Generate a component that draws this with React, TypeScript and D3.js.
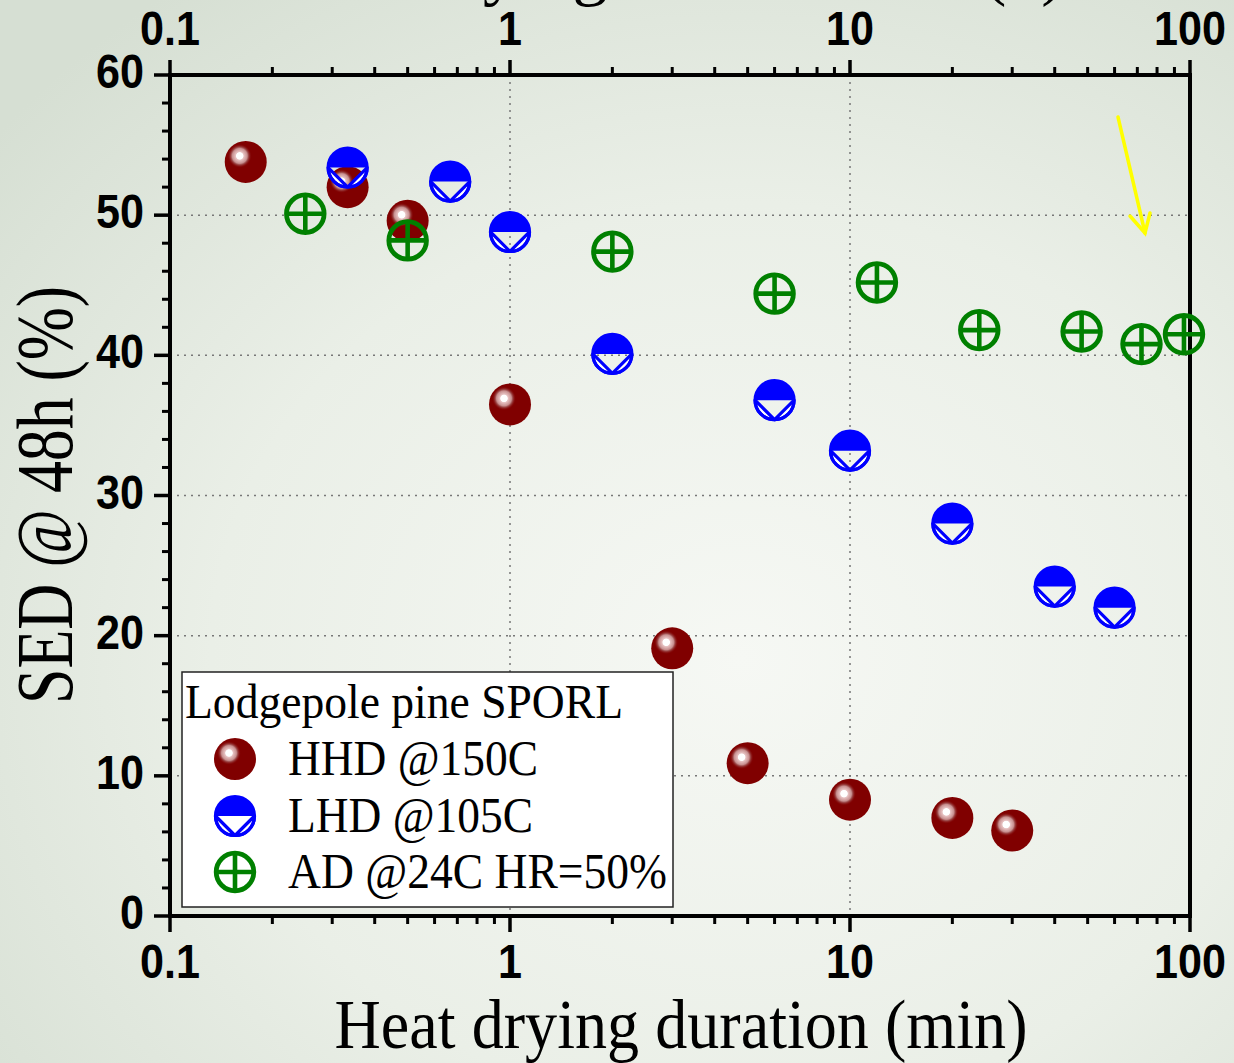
import React from "react";
import * as d3 from "d3";

// ---- data ----
const hhdX = [0.167, 0.333, 0.5, 1, 3, 5, 10, 20, 30];
const hhdY = [53.8, 52.0, 49.6, 36.5, 19.1, 10.9, 8.3, 7.0, 6.1];

const lhdX = [0.333, 0.667, 1, 2, 6, 10, 20, 40, 60];
const lhdY = [53.4, 52.4, 48.8, 40.1, 36.8, 33.2, 28.0, 23.5, 22.0];

const adX = [0.25, 0.5, 2, 6, 12, 24, 48, 72, 96];
const adY = [50.1, 48.2, 47.4, 44.4, 45.2, 41.8, 41.7, 40.8, 41.5];

const xMajorTicks = [0.1, 1, 10, 100];
const xTickLabels = ["0.1", "1", "10", "100"];
const yMajorTicks = [0, 10, 20, 30, 40, 50, 60];
const yTickLabels = ["0", "10", "20", "30", "40", "50", "60"];
const xGrid = [1, 10];
const yGrid = [10, 20, 30, 40, 50];

const legendTitle = "Lodgepole pine SPORL";
const legendLabels = ["HHD @150C", "LHD @105C", "AD @24C HR=50%"];
const xTitle = "Heat drying duration (min)";
const yTitle = "SED @ 48h (%)";

const W = 1234;
const H = 1063;
const L = 170, R = 1190, T = 75, B = 916;

const x = d3.scaleLog().domain([0.1, 100]).range([L, R]);
const y = d3.scaleLinear().domain([0, 60]).range([B, T]);

const RED = "#800000";
const BLUE = "#0000ff";
const GREEN = "#008000";

function RedMarker({ cx, cy }: { cx: number; cy: number }) {
  return (
    <g transform={`translate(${cx},${cy})`}>
      <circle r={21} fill={RED} />
      <circle cx={-6} cy={-6} r={12} fill="url(#hl)" />
    </g>
  );
}

function BlueMarker({ cx, cy }: { cx: number; cy: number }) {
  const r = 19.5;
  return (
    <g transform={`translate(${cx},${cy})`}>
      <path d={`M${-r},0 A${r},${r} 0 0 1 ${r},0 Z`} fill={BLUE} />
      <path
        d={`M${-r},0 A${r},${r} 0 0 0 0,${r} Z`}
        fill="#ffffff"
        stroke={BLUE}
        strokeWidth={3.2}
        strokeLinejoin="round"
      />
      <path
        d={`M0,${r} A${r},${r} 0 0 0 ${r},0 Z`}
        fill="#ffffff"
        stroke={BLUE}
        strokeWidth={3.2}
        strokeLinejoin="round"
      />
      <circle r={r} fill="none" stroke={BLUE} strokeWidth={3.2} />
    </g>
  );
}

function GreenMarker({ cx, cy }: { cx: number; cy: number }) {
  const r = 18.8;
  return (
    <g transform={`translate(${cx},${cy})`}>
      <circle r={r} fill="none" stroke={GREEN} strokeWidth={4.8} />
      <line x1={-r} x2={r} y1={0} y2={0} stroke={GREEN} strokeWidth={4.6} />
      <line x1={0} x2={0} y1={-r} y2={r} stroke={GREEN} strokeWidth={4.6} />
    </g>
  );
}

function TickLabel({ px, py, anchor, text }: { px: number; py: number; anchor: string; text: string }) {
  return (
    <g transform={`translate(${px},${py}) scale(0.88,1)`}>
      <text
        x={0}
        y={0}
        textAnchor={anchor}
        fontFamily="'Liberation Sans', Arial, sans-serif"
        fontWeight={700}
        fontSize={49}
      >
        {text}
      </text>
    </g>
  );
}

export default function App() {
  const minorX = x.ticks().filter((t) => !xMajorTicks.some((m) => Math.abs(m - t) < 1e-9));
  const minorY = d3.range(0, 61, 2).filter((v) => v % 10 !== 0);
  const serif = "'Liberation Serif', 'Times New Roman', serif";

  return (
    <svg
      width={W}
      height={H}
      style={{ position: "absolute", left: 0, top: 0, display: "block" }}
      xmlns="http://www.w3.org/2000/svg"
    >
      <defs>
        <radialGradient id="bg" cx="0.6" cy="0.62" r="0.78">
          <stop offset="0" stopColor="#f6f8f4" />
          <stop offset="0.55" stopColor="#eaefe7" />
          <stop offset="1" stopColor="#d6dfd3" />
        </radialGradient>
        <radialGradient id="hl">
          <stop offset="0" stopColor="#ffffff" />
          <stop offset="0.28" stopColor="#ffffff" />
          <stop offset="0.34" stopColor="#e8c4c4" />
          <stop offset="0.62" stopColor="#c89090" />
          <stop offset="0.72" stopColor="#a05050" />
          <stop offset="1" stopColor={RED} stopOpacity="0" />
        </radialGradient>
      </defs>

      <rect x={0} y={0} width={W} height={H} fill="url(#bg)" />

      {/* top title (mostly cut off at the top edge) */}
      <text x={314} y={-8} fontFamily={serif} fontSize={70} fill="#000">
        Air drying duration <tspan x={983}>(h)</tspan>
      </text>

      {/* grid */}
      {xGrid.map((v) => (
        <line key={"gx" + v} x1={x(v)} x2={x(v)} y1={T} y2={B} stroke="#777" strokeWidth={1.5} strokeDasharray="2,5" />
      ))}
      {yGrid.map((v) => (
        <line key={"gy" + v} x1={L} x2={R} y1={y(v)} y2={y(v)} stroke="#777" strokeWidth={1.5} strokeDasharray="2,5" />
      ))}

      {/* ticks */}
      {xMajorTicks.map((v) => (
        <g key={"xm" + v}>
          <line x1={x(v)} x2={x(v)} y1={T} y2={T - 15} stroke="#000" strokeWidth={3.5} />
          <line x1={x(v)} x2={x(v)} y1={B} y2={B + 16} stroke="#000" strokeWidth={3.5} />
        </g>
      ))}
      {minorX.map((v) => (
        <g key={"xn" + v}>
          <line x1={x(v)} x2={x(v)} y1={T} y2={T - 8} stroke="#000" strokeWidth={3} />
          <line x1={x(v)} x2={x(v)} y1={B} y2={B + 8} stroke="#000" strokeWidth={3} />
        </g>
      ))}
      {yMajorTicks.map((v) => (
        <line key={"ym" + v} x1={L} x2={L - 16} y1={y(v)} y2={y(v)} stroke="#000" strokeWidth={3.5} />
      ))}
      {minorY.map((v) => (
        <line key={"yn" + v} x1={L} x2={L - 8} y1={y(v)} y2={y(v)} stroke="#000" strokeWidth={3} />
      ))}

      {/* frame */}
      <rect x={L} y={T} width={R - L} height={B - T} fill="none" stroke="#000" strokeWidth={4} />

      {/* tick labels */}
      {xMajorTicks.map((v, i) => (
        <g key={"xl" + v}>
          <TickLabel px={x(v)} py={45} anchor="middle" text={xTickLabels[i]} />
          <TickLabel px={x(v)} py={978} anchor="middle" text={xTickLabels[i]} />
        </g>
      ))}
      {yMajorTicks.map((v, i) => (
        <TickLabel key={"yl" + v} px={144} py={y(v) + 13} anchor="end" text={yTickLabels[i]} />
      ))}

      {/* axis titles */}
      <text
        x={681}
        y={1048}
        textAnchor="middle"
        fontFamily={serif}
        fontSize={70}
        textLength={693}
        lengthAdjust="spacingAndGlyphs"
      >
        {xTitle}
      </text>
      <text
        transform={`translate(72,495) rotate(-90)`}
        textAnchor="middle"
        fontFamily={serif}
        fontSize={80}
        textLength={418}
        lengthAdjust="spacingAndGlyphs"
      >
        {yTitle}
      </text>

      {/* data */}
      {hhdX.map((v, i) => (
        <RedMarker key={"h" + i} cx={x(v)} cy={y(hhdY[i])} />
      ))}
      {lhdX.map((v, i) => (
        <BlueMarker key={"l" + i} cx={x(v)} cy={y(lhdY[i])} />
      ))}
      {adX.map((v, i) => (
        <GreenMarker key={"a" + i} cx={x(v)} cy={y(adY[i])} />
      ))}

      {/* yellow arrow */}
      <g stroke="#ffff00" strokeWidth={3.5} fill="none" strokeLinecap="round">
        <line x1={1118} y1={117} x2={1145} y2={233} />
        <polyline points="1130,216 1145,233 1150,213" />
      </g>

      {/* legend */}
      <rect x={182} y={672} width={491} height={235} fill="#ffffff" stroke="#222" strokeWidth={1.5} />
      <text x={185} y={718} fontFamily={serif} fontSize={48} textLength={438} lengthAdjust="spacingAndGlyphs">
        {legendTitle}
      </text>
      <RedMarker cx={235} cy={759} />
      <BlueMarker cx={235} cy={816} />
      <GreenMarker cx={235} cy={872} />
      <text x={288} y={775} fontFamily={serif} fontSize={50} textLength={250} lengthAdjust="spacingAndGlyphs">
        {legendLabels[0]}
      </text>
      <text x={288} y={832} fontFamily={serif} fontSize={50} textLength={245} lengthAdjust="spacingAndGlyphs">
        {legendLabels[1]}
      </text>
      <text x={288} y={888} fontFamily={serif} fontSize={50} textLength={379} lengthAdjust="spacingAndGlyphs">
        {legendLabels[2]}
      </text>
    </svg>
  );
}
